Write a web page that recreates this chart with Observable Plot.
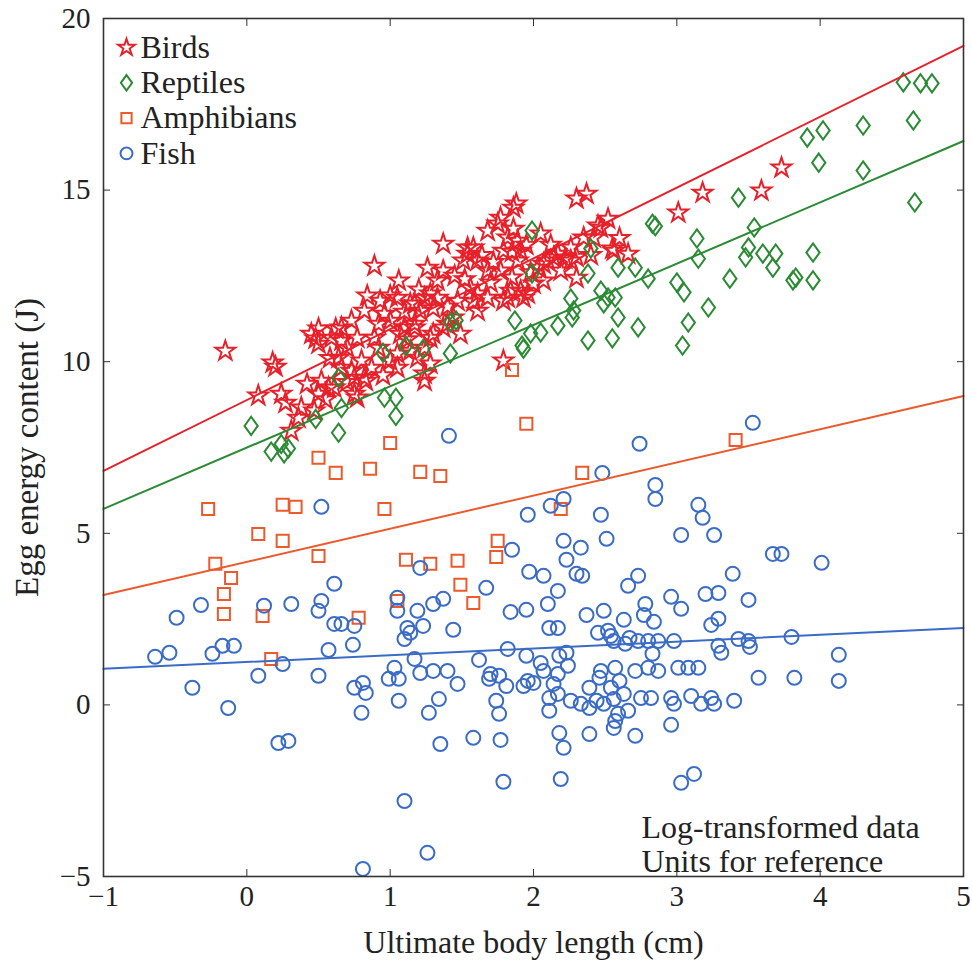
<!DOCTYPE html>
<html><head><meta charset="utf-8">
<script src="https://cdn.jsdelivr.net/npm/d3@7"></script>
<script src="https://cdn.jsdelivr.net/npm/@observablehq/plot@0.6"></script>
<style>
body{margin:0;background:#fff;}
#chart{width:972px;height:968px;}
</style></head><body><div id="chart"></div>
<script>
// ---- data (log-transformed) ----
const birds = [[-0.15,10.31],[0.18,9.97],[0.20,9.85],[0.08,9.01],[0.24,9.06],[0.27,8.80],[0.89,12.79],[0.84,11.92],[1.06,12.36],[1.00,11.92],[0.50,10.96],[0.48,10.67],[0.62,10.96],[0.66,10.61],[0.52,9.44],[0.50,9.06],[0.61,9.24],[0.75,9.53],[0.75,9.06],[0.83,9.44],[0.36,8.36],[0.38,8.66],[0.31,7.98],[0.66,9.82],[0.80,10.03],[0.96,11.39],[1.14,11.69],[1.21,11.48],[1.28,11.98],[1.17,11.10],[1.37,13.43],[1.37,12.65],[1.33,11.86],[1.47,11.77],[1.54,13.14],[1.61,12.94],[1.68,13.81],[1.75,14.02],[1.86,14.48],[1.79,13.23],[1.89,13.52],[1.77,12.65],[1.84,12.06],[1.96,11.98],[1.79,11.77],[1.61,11.98],[1.44,11.28],[1.30,10.81],[1.49,10.81],[1.79,10.03],[1.24,9.65],[1.05,9.82],[1.24,10.40],[1.07,10.81],[2.37,14.89],[2.30,14.75],[1.88,14.60],[1.54,13.32],[1.86,13.87],[2.05,13.73],[1.68,12.65],[2.03,12.73],[2.10,12.94],[2.17,13.14],[2.19,12.65],[2.26,13.32],[2.35,13.61],[2.45,13.96],[2.52,14.16],[2.55,13.29],[2.66,13.14],[2.30,12.44],[2.07,12.36],[1.93,11.86],[1.68,11.86],[1.56,12.15],[1.61,11.48],[1.37,10.99],[1.28,10.69],[1.17,10.99],[1.17,11.69],[1.24,11.86],[1.33,12.36],[1.26,12.73],[1.05,11.86],[0.93,11.77],[0.82,11.48],[0.73,11.19],[0.66,10.99],[0.77,10.69],[0.89,10.69],[1.00,11.19],[1.05,10.23],[1.19,10.11],[1.28,9.94],[1.24,9.44],[0.64,10.11],[0.73,9.73],[0.82,9.53],[0.77,8.95],[1.89,12.94],[1.51,12.94],[1.58,13.32],[2.47,13.90],[2.42,13.61],[3.01,14.34],[3.18,14.92],[3.59,14.98],[3.73,15.65],[2.56,13.23],[2.26,12.94],[1.77,14.19],[1.82,13.61],[1.91,13.23],[2.00,12.27],[1.91,12.06],[1.82,11.86],[2.07,12.85],[2.14,13.03],[0.57,9.24],[0.47,8.57],[0.87,9.82],[0.59,10.69],[0.50,10.52],[0.45,10.81],[1.00,10.03],[1.14,10.31],
  [1.10,11.45],[1.20,12.10],[1.30,11.55],[1.40,11.60],[1.52,12.40],[1.64,13.10],[1.72,12.90],[1.95,13.40],[1.98,12.60],[2.12,13.40],[2.22,13.00],[1.70,12.30],[1.45,12.50],[1.10,11.00],[0.92,11.10],[0.70,10.40],[0.58,10.10],[0.70,9.40],[0.92,10.40],[1.40,11.10],[1.58,11.75],[1.85,12.45],[2.40,13.10],[2.60,13.60],[2.30,13.05],[0.42,9.35],[0.55,8.90],[0.95,9.60],[1.12,10.65],[1.85,13.20]];

const reptiles = [[0.03,8.13],[0.17,7.38],[0.24,7.60],[0.29,7.47],[0.26,7.33],[0.48,8.33],[0.64,7.93],[0.66,8.65],[0.64,9.53],[0.96,8.95],[1.04,8.95],[1.04,8.42],[0.95,10.26],[1.11,10.46],[1.23,10.37],[1.42,10.24],[1.42,11.14],[1.46,11.20],[1.87,11.20],[1.93,10.38],[1.98,10.82],[2.05,10.85],[1.99,13.82],[1.99,12.57],[2.40,13.30],[2.38,12.57],[2.59,12.74],[2.71,12.74],[2.80,12.42],[2.83,14.02],[2.85,13.95],[3.14,13.59],[3.15,13.00],[3.00,12.31],[3.05,12.02],[3.22,11.58],[3.08,11.14],[3.04,10.47],[3.37,12.42],[3.43,14.78],[3.54,13.91],[3.50,13.33],[3.48,13.04],[3.60,13.15],[3.69,13.15],[3.67,12.74],[3.83,12.45],[3.81,12.37],[3.95,13.18],[3.95,12.37],[3.91,16.53],[4.02,16.74],[3.99,15.80],[4.30,16.88],[4.30,15.57],[4.58,18.14],[4.70,18.11],[4.78,18.11],[4.65,17.03],[4.66,14.64],[1.92,10.47],[2.17,11.05],[2.26,11.84],[2.27,11.29],[2.38,10.62],[2.47,12.07],[2.52,11.87],[2.49,11.70],[2.57,11.87],[2.59,11.29],[2.55,10.68],[2.73,11.00],[2.28,11.49]];

const amphibians = [[-0.27,5.71],[0.25,5.83],[0.34,5.77],[0.08,4.98],[0.25,4.78],[-0.22,4.11],[-0.11,3.70],[-0.16,3.23],[-0.16,2.65],[0.50,7.20],[0.62,6.76],[1.00,7.63],[0.86,6.88],[1.21,6.79],[1.35,6.67],[1.95,8.19],[0.96,5.71],[0.50,4.34],[1.11,4.23],[1.28,4.11],[1.47,4.20],[1.75,4.78],[1.74,4.31],[1.49,3.50],[1.58,2.97],[1.05,3.03],[0.78,2.54],[0.11,2.59],[0.17,1.34],[1.85,9.76],[2.34,6.76],[3.41,7.72],[2.19,5.71]];

const fish = [[1.41,7.84],[0.52,5.77],[2.74,7.61],[3.53,8.22],[2.48,6.76],[2.85,6.41],[2.85,6.00],[3.15,5.83],[3.18,5.45],[3.26,4.95],[3.03,4.95],[2.47,5.54],[2.51,4.84],[2.12,5.80],[2.21,6.00],[1.96,5.54],[1.85,4.52],[2.21,4.78],[2.33,4.58],[2.23,4.23],[1.97,3.88],[2.07,3.76],[2.30,3.82],[2.34,3.76],[2.17,3.32],[2.10,2.94],[1.84,2.71],[1.95,2.77],[2.66,3.47],[2.73,3.76],[2.37,2.62],[2.49,2.74],[2.63,2.48],[2.78,2.94],[2.77,2.62],[2.84,2.42],[2.96,3.15],[3.03,2.80],[3.20,3.23],[3.29,3.26],[3.39,3.82],[3.50,3.06],[3.67,4.40],[3.73,4.40],[4.01,4.14],[3.24,2.33],[3.29,2.51],[2.11,2.24],[2.17,2.24],[2.45,2.10],[2.52,2.16],[2.54,2.01],[2.56,1.86],[2.64,1.78],[2.67,1.95],[2.73,1.86],[2.80,1.86],[2.87,1.86],[2.98,1.86],[3.29,1.72],[3.31,1.52],[3.43,1.92],[3.50,1.86],[3.51,1.69],[3.80,1.98],[1.82,1.63],[1.95,1.43],[2.18,1.43],[2.23,1.52],[2.24,1.14],[2.83,1.49],[4.13,1.46],[2.07,0.99],[2.17,0.90],[2.47,0.99],[2.57,1.08],[2.71,0.99],[2.80,1.08],[2.87,0.99],[3.01,1.08],[3.08,1.08],[3.15,1.08],[3.57,0.79],[3.82,0.79],[4.13,0.70],[1.81,0.55],[1.93,0.55],[1.96,0.70],[2.14,0.61],[2.17,0.32],[2.11,0.20],[2.39,0.50],[2.46,0.79],[2.54,0.50],[2.60,0.70],[2.63,0.32],[2.56,0.17],[2.75,0.20],[2.82,0.20],[2.96,0.20],[2.98,0.03],[3.10,0.26],[3.17,0.03],[3.24,0.20],[3.26,0.03],[3.40,0.12],[2.11,-0.17],[2.26,0.12],[2.33,0.03],[2.39,-0.09],[2.44,0.12],[2.49,0.03],[2.59,-0.26],[2.66,-0.17],[2.57,-0.47],[2.56,-0.67],[2.18,-0.82],[2.21,-1.25],[2.39,-0.85],[2.71,-0.90],[2.96,-0.58],[2.19,-2.16],[3.03,-2.27],[3.12,-2.01],[1.77,-1.02],[1.79,-2.24],[1.58,-0.96],[1.76,-0.26],[1.74,0.12],[1.76,0.85],[1.69,0.76],[2.00,0.64],
  [1.21,3.99],[1.67,3.41],[0.61,3.53],[1.37,3.09],[1.30,2.94],[1.05,3.12],[1.05,2.74],[1.19,2.74],[0.52,3.03],[0.50,2.74],[0.31,2.94],[0.12,2.89],[-0.32,2.91],[-0.49,2.54],[0.61,2.36],[0.66,2.36],[0.75,2.30],[1.12,2.24],[1.23,2.30],[1.10,1.92],[1.44,2.19],[0.74,1.75],[0.57,1.60],[1.62,1.31],[-0.64,1.40],[-0.54,1.52],[-0.24,1.49],[-0.17,1.72],[-0.09,1.72],[0.25,1.19],[0.08,0.85],[0.50,0.85],[1.03,1.08],[1.17,1.34],[1.21,0.93],[1.30,0.99],[1.40,0.99],[1.70,0.90],[2.05,1.22],[-0.38,0.50],[-0.13,-0.09],[0.22,-1.11],[0.29,-1.05],[0.75,0.50],[0.81,0.64],[0.83,0.35],[0.80,-0.23],[0.81,-4.78],[0.99,0.76],[1.06,0.76],[1.06,0.12],[1.47,0.61],[1.34,0.17],[1.27,-0.23],[1.35,-1.14],[1.10,-2.80],[1.26,-4.31],[1.14,2.10]];

// fitted regression lines (value at x = -1 and x = 5)
const fitX = [-1, 5];
const fitBirds = [6.82, 19.2];
const fitReptiles = [5.71, 16.43];
const fitAmphibians = [3.2, 9.0];
const fitFish = [1.05, 2.24];

const xTicks = [-1, 0, 1, 2, 3, 4, 5];
const yTicks = [-5, 0, 5, 10, 15, 20];
const legendNames = ["Birds", "Reptiles", "Amphibians", "Fish"];
const xLabel = "Ultimate body length (cm)";
const yLabel = "Egg energy content (J)";
const note = "Log-transformed data\nUnits for reference";

// ---- styling ----
const FONT = "Liberation Serif";
const INK = "#222";
const colors = {Birds: "#e8202a", Reptiles: "#2b8a34", Amphibians: "#ea5a2c", Fish: "#3a6cc6"};
const radii = {Birds: 6.2, Reptiles: 7, Amphibians: 6.8, Fish: 7};
// MATLAB-like diamond: taller than wide
const tallDiamond = {
  draw(context, size) {
    const r = Math.sqrt(size / Math.PI);
    const h = r * 1.3, w = r * 0.95;
    context.moveTo(0, -h); context.lineTo(w, 0); context.lineTo(0, h); context.lineTo(-w, 0); context.closePath();
  }
};
const symbols = {Birds: "star", Reptiles: tallDiamond, Amphibians: "square", Fish: "circle"};
const fmt = d => d < 0 ? "\u2212" + Math.abs(d) : String(d);

const series = [
  ["Birds", birds, fitBirds],
  ["Reptiles", reptiles, fitReptiles],
  ["Amphibians", amphibians, fitAmphibians],
  ["Fish", fish, fitFish]
];

const marks = [];
for (const [name, data] of series) {
  marks.push(Plot.dot(data, {x: d => d[0], y: d => d[1], symbol: symbols[name], r: radii[name], stroke: colors[name], strokeWidth: 2, fill: "none"}));
}
for (const [name, , fit] of series) {
  marks.push(Plot.line(fitX.map((x, i) => [x, fit[i]]), {x: d => d[0], y: d => d[1], stroke: colors[name], strokeWidth: 2}));
}
legendNames.forEach((name, i) => {
  const dy = 29 + i * 35.3;
  marks.push(Plot.dot([name], {frameAnchor: "top-left", dx: 23, dy, symbol: symbols[name], r: radii[name] * 0.85, stroke: colors[name], strokeWidth: 2, fill: "none"}));
  marks.push(Plot.text([name], {frameAnchor: "top-left", dx: 37, dy, textAnchor: "start", lineAnchor: "middle", fontSize: 32, fontFamily: FONT, fill: INK}));
});
marks.push(Plot.text([note], {frameAnchor: "bottom-right", textAnchor: "start", lineAnchor: "bottom", dx: -322, dy: -5, lineHeight: 1.05, fontSize: 32, fontFamily: FONT, fill: INK}));
marks.push(Plot.text([xLabel], {frameAnchor: "bottom", textAnchor: "middle", lineAnchor: "middle", dy: 66, fontSize: 32, fontFamily: FONT, fill: INK}));
marks.push(Plot.text([yLabel], {frameAnchor: "left", textAnchor: "middle", lineAnchor: "middle", dx: -76, rotate: -90, fontSize: 33, fontFamily: FONT, fill: INK}));
marks.push(Plot.axisX(xTicks, {anchor: "bottom", tickSize: -7, tickPadding: 16, tickFormat: fmt, fontSize: 29, fontFamily: FONT, stroke: "#333", fill: INK}));
marks.push(Plot.axisX(xTicks, {anchor: "top", tickSize: -7, tickFormat: () => "", stroke: "#333"}));
marks.push(Plot.axisY(yTicks, {anchor: "left", tickSize: -7, tickPadding: 20, tickFormat: fmt, fontSize: 29, fontFamily: FONT, stroke: "#333", fill: INK}));
marks.push(Plot.axisY(yTicks, {anchor: "right", tickSize: -7, tickFormat: () => "", stroke: "#333"}));
marks.push(Plot.frame({stroke: "#333", strokeWidth: 1.6}));

const chart = Plot.plot({
  width: 972, height: 968,
  marginLeft: 103, marginRight: 9, marginTop: 18, marginBottom: 92,
  style: {fontFamily: FONT, background: "#fff", color: INK},
  x: {domain: [-1, 5], label: null},
  y: {domain: [-5, 20], label: null},
  marks
});
document.getElementById("chart").append(chart);
</script></body></html>
